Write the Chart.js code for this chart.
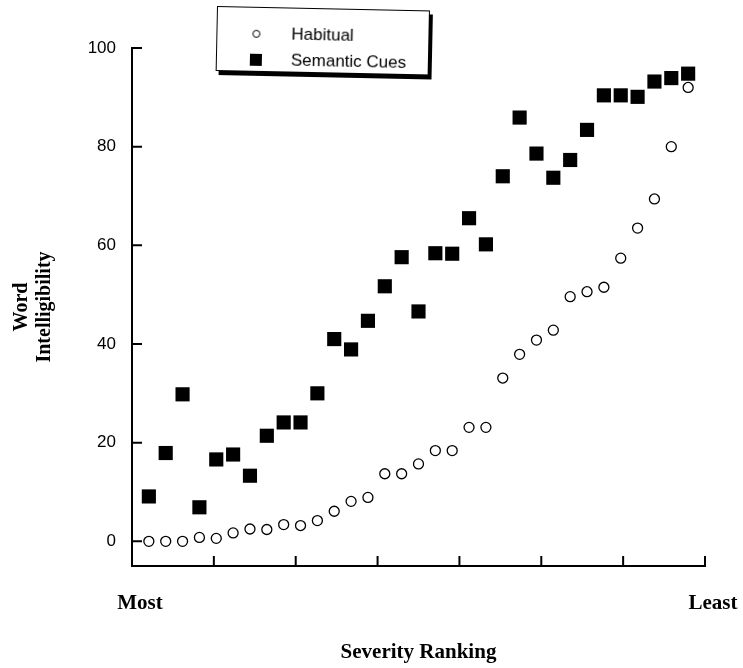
<!DOCTYPE html>
<html>
<head>
<meta charset="utf-8">
<script src="https://cdn.jsdelivr.net/npm/chart.js@4.4.1/dist/chart.umd.min.js"></script>
<style>
  body { margin: 0; background: #fff; }
  #wrap { position: relative; width: 743px; height: 668px; }
  #legend {
    position: absolute; left: 217px; top: 6px; width: 211px; height: 63px;
    border: 1.5px solid #000; box-shadow: 3px 4px 0 #000; background: #fff;
    font: 17px "Liberation Sans", Arial, sans-serif; color: #000;
    transform: rotate(1.2deg); transform-origin: left top;
  }
  #legend .row { position: absolute; left: 0; height: 20px; line-height: 20px; }
  #legend .mark { position: absolute; box-sizing: border-box; }
  #legend .txt { position: absolute; left: 74px; top: 0; white-space: nowrap; }
</style>
</head>
<body>
<div id="wrap">
  <canvas id="chart" width="743" height="668"></canvas>
  <div id="legend"></div>
</div>
<script>
// severity rank of each speaker, most severe first
var ranks = [1, 2, 3, 4, 5, 6, 7, 8, 9, 10, 11, 12, 13, 14, 15, 16, 17,
             18, 19, 20, 21, 22, 23, 24, 25, 26, 27, 28, 29, 30, 31, 32, 33];
var habitual = [0, 0, 0, 0.8, 0.6, 1.7, 2.5, 2.4, 3.4, 3.2, 4.2, 6.1, 8.1,
                8.9, 13.7, 13.7, 15.7, 18.4, 18.4, 23.1, 23.1, 33.1, 37.9,
                40.8, 42.8, 49.6, 50.6, 51.5, 57.4, 63.5, 69.4, 80, 92];
var semanticCues = [9.1, 17.9, 29.8, 6.9, 16.6, 17.6, 13.3, 21.4, 24.1,
                    24.1, 30, 41, 38.9, 44.7, 51.7, 57.6, 46.6, 58.4, 58.3,
                    65.5, 60.2, 74, 85.9, 78.6, 73.7, 77.3, 83.4, 90.4, 90.4,
                    90.1, 93.2, 93.9, 94.8];
var yTicks = [0, 20, 40, 60, 80, 100];
var severityLabels = ['Most', 'Least'];

var xMax = 34;
var xTickCount = 7;

function points(values) {
  return values.map(function(v, i) { return { x: ranks[i], y: v }; });
}

// small tick marks pointing into the plot, like the original figure
var innerTicks = {
  id: 'innerTicks',
  afterDatasetsDraw: function(chart) {
    var ctx = chart.ctx;
    var x = chart.scales.x, y = chart.scales.y;
    ctx.save();
    ctx.strokeStyle = '#000';
    ctx.lineWidth = 2;
    ctx.beginPath();
    y.ticks.forEach(function(t) {
      var py = y.getPixelForValue(t.value);
      ctx.moveTo(y.right, py);
      ctx.lineTo(y.right + 10, py);
    });
    x.ticks.forEach(function(t) {
      if (t.value === 0) return;
      var px = x.getPixelForValue(t.value);
      ctx.moveTo(px, x.top);
      ctx.lineTo(px, x.top - 10);
    });
    ctx.stroke();
    ctx.restore();
  }
};

// legend as html, built from the datasets
var htmlLegend = {
  id: 'htmlLegend',
  afterUpdate: function(chart) {
    var box = document.getElementById('legend');
    box.innerHTML = '';
    chart.data.datasets.forEach(function(ds, i) {
      var row = document.createElement('div');
      row.className = 'row';
      row.style.top = (16 + i * 26) + 'px';
      row.style.width = '100%';
      var mark = document.createElement('span');
      mark.className = 'mark';
      if (ds.pointStyle === 'rect') {
        mark.style.cssText = 'left:33px;top:4px;width:12px;height:12px;background:#000';
      } else {
        mark.style.cssText = 'left:35px;top:6px;width:8px;height:8px;border:1px solid #000;border-radius:50%';
      }
      var txt = document.createElement('span');
      txt.className = 'txt';
      txt.textContent = ds.label;
      row.appendChild(mark);
      row.appendChild(txt);
      box.appendChild(row);
    });
  }
};

var serif = '"Liberation Serif", "Times New Roman", serif';

new Chart(document.getElementById('chart').getContext('2d'), {
  type: 'scatter',
  data: {
    datasets: [{
      label: 'Habitual',
      data: points(habitual),
      pointStyle: 'circle',
      pointRadius: 5,
      borderWidth: 1.3,
      borderColor: '#000',
      backgroundColor: '#fff'
    }, {
      label: 'Semantic Cues',
      data: points(semanticCues),
      pointStyle: 'rect',
      pointRadius: 10,
      borderWidth: 0,
      borderColor: '#000',
      backgroundColor: '#000'
    }]
  },
  options: {
    responsive: false,
    animation: false,
    devicePixelRatio: 1,
    clip: false,
    layout: { padding: { top: 48, right: 38, left: 0, bottom: 0 } },
    plugins: {
      legend: { display: false },
      tooltip: { enabled: false }
    },
    scales: {
      x: {
        type: 'linear',
        min: 0,
        max: xMax,
        grid: { display: false },
        border: { display: true, color: '#000', width: 2 },
        afterBuildTicks: function(scale) {
          var ticks = [];
          for (var k = 0; k <= xTickCount; k++) ticks.push({ value: k * xMax / xTickCount });
          scale.ticks = ticks;
        },
        afterFit: function(scale) {
          scale.height = 102;
          scale.paddingLeft = 0;
          scale.paddingRight = 0;
        },
        ticks: {
          autoSkip: false,
          maxRotation: 0,
          padding: 17,
          labelOffset: 8,
          color: '#000',
          font: { family: serif, size: 21, weight: 'bold' },
          callback: function(v) {
            if (v === 0) return severityLabels[0];
            if (v === xMax) return severityLabels[1];
            return '';
          }
        },
        title: {
          display: true,
          text: 'Severity Ranking',
          color: '#000',
          font: { family: serif, size: 21, weight: 'bold' },
          padding: { top: 0, bottom: 3 }
        }
      },
      y: {
        min: -5,
        max: 100,
        grid: { display: false },
        border: { display: true, color: '#000', width: 2 },
        afterBuildTicks: function(scale) {
          scale.ticks = yTicks.map(function(v) { return { value: v }; });
        },
        afterFit: function(scale) { scale.width = 132; },
        ticks: {
          padding: 8,
          color: '#000',
          font: { family: '"Liberation Sans", Arial, sans-serif', size: 17 }
        },
        title: {
          display: true,
          text: ['Word', 'Intelligibility'],
          color: '#000',
          font: { family: serif, size: 20, weight: 'bold', lineHeight: 1.15 },
          padding: { top: 10, bottom: 0 }
        }
      }
    }
  },
  plugins: [innerTicks, htmlLegend]
});
</script>
</body>
</html>
